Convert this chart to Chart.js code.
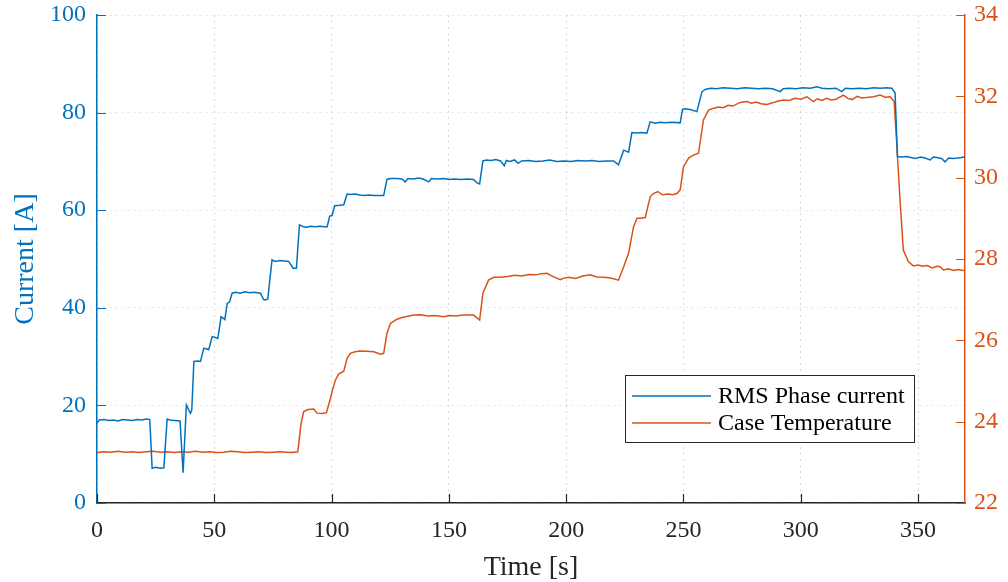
<!DOCTYPE html>
<html><head><meta charset="utf-8">
<script src="https://cdn.jsdelivr.net/npm/chart.js@4.4.1/dist/chart.umd.min.js"></script>
<style>html,body{margin:0;padding:0;background:#fff;}#wrap{width:1008px;height:582px;position:relative;}</style>
</head><body><div id="wrap"><canvas id="c" width="1008" height="582"></canvas></div>
<script>
const seriesNames = ['RMS Phase current', 'Case Temperature'];
const timeTicks = [0, 50, 100, 150, 200, 250, 300, 350];
const currentTicks = [0, 20, 40, 60, 80, 100];
const tempTicks = [22, 24, 26, 28, 30, 32, 34];

const currentTime = [0,1,3,5,7,9,11,13,15,17,19,21,22.5,23.5,25,27,28.5,29.9,31,33,35.4,36.7,38.1,39.8,40.4,41.3,43,44.1,45.5,46.5,47.6,49.1,50.5,51.5,52.9,54.5,55.5,56.5,57.6,59,61,63,65,67,69.7,71,71.8,72.8,74.6,76,78,80,81.7,83.6,85,86.3,88,89.3,91,93,95,97,98.1,99.2,100.2,101.3,103.5,105.2,106.6,108,110,112,114,116,118,120,122.2,123.6,125,127.9,130,131.4,132.5,135,137,139,141.4,142.5,145,148,150,152,155,158,160.5,162,163.1,164.5,166,168,170,172,173.6,174.5,176,178,179.5,181,184,187,190,193,196,199,202,205,208,211,214,217,220.2,222.3,224.5,226.6,228,230,232,234.4,235.8,238,240,242,245,248.6,249.6,251,253.2,255.7,257.9,259.5,261.7,264,267,270,273,276,279,282,285,288,291.2,292.5,295,298,301,304,306.9,309,312,315,317.5,319,322,325,328,331,334,336.5,338.8,340.2,341.2,343,345,347,349,351,353,355.1,356.5,358,360,361.5,363,365,367,370];
const currentValues = [16.4,17.0,17.1,16.9,17.0,16.8,17.1,17.0,16.9,17.1,17.0,17.2,17.1,7.1,7.3,7.1,7.2,17.2,17.0,16.9,16.8,6.2,20.1,18.4,19.0,29.0,29.1,29.0,31.7,31.6,31.4,34.1,33.9,33.7,38.2,37.6,40.9,41.2,43.0,43.2,43.0,43.3,43.1,43.2,43.0,41.7,41.6,41.8,49.8,49.5,49.7,49.6,49.5,48.1,48.1,57.0,56.6,56.5,56.7,56.6,56.7,56.6,56.6,58.8,58.9,60.9,61.0,61.1,63.3,63.2,63.3,63.1,63.0,63.1,63.0,63.0,63.0,66.3,66.5,66.5,66.4,65.8,66.5,66.4,66.6,66.4,65.8,66.5,66.4,66.5,66.3,66.4,66.3,66.4,66.3,65.6,65.4,70.1,70.3,70.2,70.4,70.1,69.1,70.2,70.0,70.3,69.6,70.1,70.2,70.0,70.1,70.3,70.0,70.1,70.0,70.2,70.1,70.2,70.0,70.1,70.1,69.3,72.3,71.9,75.9,75.8,75.9,75.8,78.1,77.8,78.0,77.9,78.0,77.9,80.7,80.8,80.6,80.2,84.3,84.8,85.0,84.9,85.1,85.0,84.9,85.1,85.0,84.9,85.0,84.9,84.3,84.9,85.0,84.9,85.1,85.0,85.3,85.0,84.9,85.0,84.3,85.0,84.9,85.0,84.9,85.1,85.0,85.1,85.0,84.0,71.0,70.9,71.0,70.8,70.6,70.9,70.7,70.3,70.9,70.8,70.6,69.9,70.7,70.6,70.7,70.9];

const tempTime = [0,3,6,9,12,15,18,21,24,27,30,33,36,39,42,45,48,51,54,57,60,63,66,69,72,75,78,81,83,85.6,87,88.1,90,92.4,93.8,96,97.8,99.5,100.5,101.6,103,105.2,106.6,108,110,112,115,118,120.8,122.2,123.6,125.1,127.9,130,132.5,135,138,141,144,147.8,150,153,156,160.5,163.1,164.5,166.9,169.1,172,175,178,181,184,187,189.5,191.8,194,197.5,199,201,204,207,210.3,213,216,219,222.3,224.5,226.6,228.7,230.2,232,233.7,235.8,237.2,239,241,243.5,245.5,247.2,248.6,250,252.2,254,256.4,258.5,260.7,262.5,264.9,267,269,271,274.2,277,279,281,283,285.6,288,290,292.6,295,297.5,300,302.6,305.4,307,309,311,313,315,318.2,320,322,324,326,328,331,333.8,336,338.1,339.8,340.9,342.3,343.7,345.9,348,350,352,354,356,358,359.4,360.8,363,365,367,370];
const tempValues = [23.24,23.26,23.25,23.27,23.25,23.26,23.24,23.26,23.27,23.25,23.26,23.24,23.26,23.25,23.27,23.25,23.26,23.24,23.25,23.27,23.26,23.24,23.25,23.26,23.24,23.25,23.26,23.25,23.24,23.26,23.96,24.25,24.30,24.31,24.21,24.20,24.22,24.57,24.80,25.02,25.17,25.24,25.56,25.68,25.72,25.74,25.73,25.72,25.66,25.68,26.17,26.42,26.52,26.56,26.59,26.62,26.63,26.60,26.61,26.58,26.61,26.60,26.62,26.62,26.50,27.16,27.48,27.55,27.55,27.57,27.60,27.58,27.62,27.61,27.64,27.65,27.58,27.49,27.53,27.55,27.52,27.58,27.61,27.56,27.55,27.53,27.48,27.81,28.14,28.79,29.00,29.00,29.02,29.53,29.61,29.66,29.58,29.60,29.58,29.61,29.70,30.27,30.48,30.55,30.60,31.42,31.66,31.70,31.74,31.72,31.78,31.76,31.85,31.87,31.83,31.86,31.82,31.80,31.84,31.88,31.91,31.90,31.95,31.93,31.99,31.87,31.94,31.90,31.95,31.91,31.93,32.03,31.95,31.92,32.00,31.96,31.97,31.99,32.03,31.98,31.99,31.87,30.84,29.45,28.22,27.93,27.83,27.85,27.82,27.84,27.78,27.82,27.81,27.73,27.76,27.72,27.74,27.71];

const BLUE = '#0072BD', ORANGE = '#D95319', DARK = '#262626';
const FONT = 'Liberation Serif, Times New Roman, serif';

const pairs = (xs, ys) => xs.map((x, i) => ({x: x, y: ys[i]}));
const setTicks = arr => s => { s.ticks = arr.map(v => ({value: v})); };

const tickMarks = {
  id: 'tickMarks',
  afterDraw(chart) {
    const ctx = chart.ctx, a = chart.chartArea, L = 9;
    const {x, y, y1} = chart.scales;
    ctx.save();
    ctx.lineWidth = 1.2;
    ctx.strokeStyle = DARK;
    ctx.beginPath();
    timeTicks.forEach(v => { const p = Math.round(x.getPixelForValue(v)) + 0.5; ctx.moveTo(p, a.bottom); ctx.lineTo(p, a.bottom - L); });
    ctx.stroke();
    ctx.strokeStyle = BLUE;
    ctx.beginPath();
    currentTicks.forEach(v => { const p = Math.round(y.getPixelForValue(v)) + 0.5; ctx.moveTo(a.left, p); ctx.lineTo(a.left + L, p); });
    ctx.stroke();
    ctx.strokeStyle = ORANGE;
    ctx.beginPath();
    tempTicks.forEach(v => { const p = Math.round(y1.getPixelForValue(v)) + 0.5; ctx.moveTo(a.right, p); ctx.lineTo(a.right - L, p); });
    ctx.stroke();
    ctx.restore();
  }
};

const boxLegend = {
  id: 'boxLegend',
  afterDraw(chart) {
    const ctx = chart.ctx, a = chart.chartArea;
    const bx = a.right - 340, by = a.bottom - 128, bw = 289, bh = 67;
    ctx.save();
    ctx.fillStyle = '#fff';
    ctx.fillRect(bx, by, bw, bh);
    ctx.strokeStyle = DARK;
    ctx.lineWidth = 1;
    ctx.strokeRect(bx + 0.5, by + 0.5, bw, bh);
    ctx.font = '24px ' + FONT;
    ctx.textBaseline = 'middle';
    chart.data.datasets.forEach((ds, i) => {
      const yy = by + 21 + i * 27;
      ctx.strokeStyle = ds.borderColor;
      ctx.lineWidth = 1.5;
      ctx.beginPath(); ctx.moveTo(bx + 7, yy); ctx.lineTo(bx + 86, yy); ctx.stroke();
      ctx.fillStyle = '#000';
      ctx.fillText(ds.label, bx + 93, yy + 1);
    });
    ctx.restore();
  }
};

const fitVertical = w => s => { s.width = w; s.paddingTop = 0; s.paddingBottom = 0; };

new Chart(document.getElementById('c'), {
  type: 'line',
  data: {
    datasets: [
      {label: seriesNames[0], data: pairs(currentTime, currentValues), yAxisID: 'y', borderColor: BLUE, borderWidth: 1.5, pointRadius: 0, tension: 0, order: 1},
      {label: seriesNames[1], data: pairs(tempTime, tempValues), yAxisID: 'y1', borderColor: ORANGE, borderWidth: 1.5, pointRadius: 0, tension: 0, order: 2}
    ]
  },
  options: {
    responsive: false,
    animation: false,
    devicePixelRatio: 1,
    layout: {padding: {top: 15, left: 0, right: 0, bottom: 0}},
    plugins: {legend: {display: false}, tooltip: {enabled: false}},
    scales: {
      x: {
        type: 'linear', min: 0, max: 370,
        afterBuildTicks: setTicks(timeTicks),
        afterFit: s => { s.height = 79; s.paddingLeft = 0; s.paddingRight = 0; },
        grid: {color: 'rgba(38,38,38,0.18)', lineWidth: 1, drawTicks: false},
        border: {display: true, color: DARK, width: 1.5, dash: [2, 4]},
        ticks: {color: DARK, font: {family: FONT, size: 24}, padding: 13, maxRotation: 0, autoSkip: false},
        title: {display: true, text: 'Time [s]', color: DARK, font: {family: FONT, size: 28, lineHeight: 1}, padding: {bottom: 0, top: 0}}
      },
      y: {
        position: 'left', min: 0, max: 100,
        afterBuildTicks: setTicks(currentTicks),
        afterFit: fitVertical(97),
        grid: {color: 'rgba(0,114,189,0.16)', lineWidth: 1, drawTicks: false},
        border: {display: true, color: BLUE, width: 1.5, dash: [2, 4]},
        ticks: {color: BLUE, font: {family: FONT, size: 24}, padding: 11},
        title: {display: true, text: 'Current [A]', color: BLUE, font: {family: FONT, size: 28, lineHeight: 1}, padding: {top: 12, bottom: 0}}
      },
      y1: {
        position: 'right', min: 22, max: 34,
        afterBuildTicks: setTicks(tempTicks),
        afterFit: fitVertical(43),
        grid: {display: false, drawTicks: false},
        border: {display: true, color: ORANGE, width: 1.5},
        ticks: {color: ORANGE, font: {family: FONT, size: 24}, padding: 9}
      }
    }
  },
  plugins: [tickMarks, boxLegend]
});
</script></body></html>
